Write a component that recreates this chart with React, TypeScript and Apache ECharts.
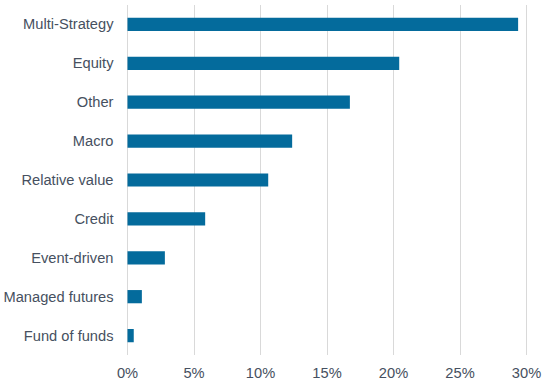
import React, { useEffect, useRef } from "react";
import * as echarts from "echarts";

const categories = [
  "Multi-Strategy",
  "Equity",
  "Other",
  "Macro",
  "Relative value",
  "Credit",
  "Event-driven",
  "Managed futures",
  "Fund of funds",
];
const values = [29.37, 20.43, 16.72, 12.38, 10.58, 5.84, 2.81, 1.08, 0.47];
const xTicks = [0, 5, 10, 15, 20, 25, 30];

export default function App() {
  const ref = useRef<HTMLDivElement>(null);
  useEffect(() => {
    document.body.style.margin = "0";
    if (!ref.current) return;
    const chart = echarts.init(ref.current, undefined, { renderer: "svg" });
    const textColor = "#465060";
    chart.setOption({
      animation: false,
      grid: {
        left: 127.5,
        right: 21.5,
        top: 5,
        bottom: 32,
        containLabel: false,
        outerBoundsMode: "none",
      },
      xAxis: {
        type: "value",
        min: xTicks[0],
        max: xTicks[xTicks.length - 1],
        interval: 5,
        axisLine: { show: false },
        axisTick: { show: false },
        splitLine: { show: true, lineStyle: { color: "#d9d9d9", width: 1 } },
        axisLabel: {
          formatter: (v: number) => `${v}%`,
          color: textColor,
          fontSize: 14.67,
          fontFamily: "'Liberation Sans', Arial, sans-serif",
          margin: 10,
        },
      },
      yAxis: {
        type: "category",
        data: categories,
        inverse: true,
        axisLine: { show: false },
        axisTick: { show: false },
        axisLabel: {
          color: textColor,
          fontSize: 14.67,
          fontFamily: "'Liberation Sans', Arial, sans-serif",
          margin: 14,
          width: 140,
          overflow: "none",
          hideOverlap: false,
        },
      },
      series: [
        {
          type: "bar",
          data: values,
          barWidth: "34%",
          itemStyle: { color: "#046b9c" },
        },
      ],
    });
    return () => chart.dispose();
  }, []);
  return <div ref={ref} style={{ width: 548, height: 387 }} />;
}
